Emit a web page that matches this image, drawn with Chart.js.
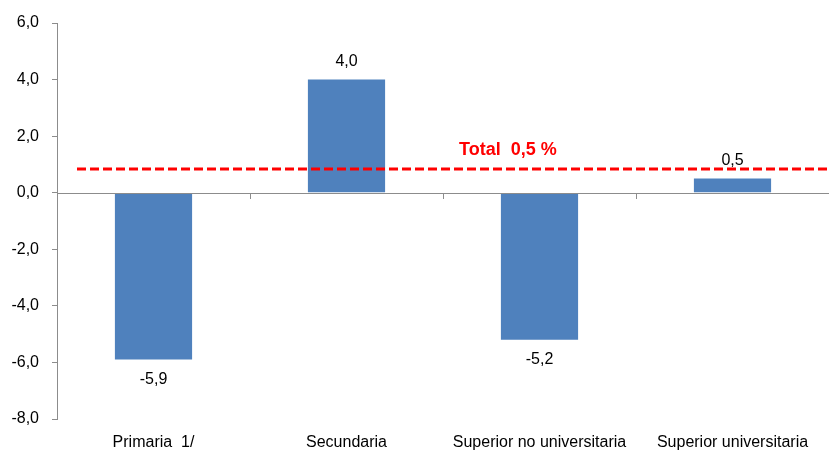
<!DOCTYPE html>
<html>
<head>
<meta charset="utf-8">
<script src="https://cdn.jsdelivr.net/npm/chart.js@4"></script>
<style>
  html, body { margin: 0; padding: 0; background: #fff; }
  #wrap { width: 829px; height: 455px; }
</style>
</head>
<body>
<div id="wrap"><canvas id="c"></canvas></div>
<script>
// data
const categories = ["Primaria  1/", "Secundaria", "Superior no universitaria", "Superior universitaria"];
const values     = [-5.9, 4.0, -5.2, 0.5];
const totalLevel = 0.85;          // where the dashed red line sits
const totalLabel = "Total  0,5 %";
const yTicks     = [6, 4, 2, 0, -2, -4, -6, -8];

const FONT = "'Liberation Sans Narrow', 'Arial Narrow', 'Liberation Sans', sans-serif";
const fmt = v => v.toFixed(1).replace(".", ",");

/** zero line, category tick marks, value labels and the total line */
const extras = {
  id: "extras",
  afterDatasetsDraw(chart) {
    const { ctx, chartArea, scales: { x, y } } = chart;
    const y0 = Math.round(y.getPixelForValue(0));
    ctx.save();

    // zero axis line + tick marks between categories
    ctx.strokeStyle = "#8c8c8c";
    ctx.lineWidth = 1;
    ctx.beginPath();
    ctx.moveTo(chartArea.left, y0 + 0.5);
    ctx.lineTo(chartArea.right, y0 + 0.5);
    const half = (x.getPixelForValue(1) - x.getPixelForValue(0)) / 2;
    for (let i = 1; i < categories.length; i++) {
      const px = Math.round(x.getPixelForValue(i) - half) + 0.5;
      ctx.moveTo(px, y0);
      ctx.lineTo(px, y0 + 6);
    }
    ctx.stroke();

    // value labels
    ctx.fillStyle = "#000";
    ctx.font = "16px " + FONT;
    ctx.textAlign = "center";
    const meta = chart.getDatasetMeta(0);
    meta.data.forEach((bar, i) => {
      const v = values[i];
      if (v >= 0) {
        ctx.textBaseline = "bottom";
        ctx.fillText(fmt(v), bar.x, bar.y - 10);
      } else {
        ctx.textBaseline = "top";
        ctx.fillText(fmt(v), bar.x, bar.y + 12);
      }
    });

    // dashed total line
    const yt = Math.round(y.getPixelForValue(totalLevel));
    ctx.strokeStyle = "#ff0000";
    ctx.lineWidth = 3;
    ctx.setLineDash([9, 4]);
    ctx.beginPath();
    ctx.moveTo(chartArea.left + 20, yt);
    ctx.lineTo(chartArea.right, yt);
    ctx.stroke();
    ctx.setLineDash([]);

    ctx.fillStyle = "#ff0000";
    ctx.font = "bold 18px 'Liberation Sans', Arial, sans-serif";
    ctx.textAlign = "left";
    ctx.textBaseline = "bottom";
    ctx.fillText(totalLabel, x.getPixelForValue(2) - half + 16, yt - 10);

    ctx.restore();
  }
};

new Chart(document.getElementById("c"), {
  type: "bar",
  data: {
    labels: categories,
    datasets: [{
      data: values,
      backgroundColor: "#4f81bd",
      categoryPercentage: 1,
      barPercentage: 0.4,
    }],
  },
  options: {
    responsive: true,
    maintainAspectRatio: false,
    animation: false,
    layout: { padding: { top: 23, right: 0 } },
    plugins: { legend: { display: false }, tooltip: { enabled: false } },
    scales: {
      x: {
        grid: { display: false },
        border: { display: false },
        ticks: { color: "#000", font: { size: 16, family: FONT }, padding: 6, maxRotation: 0, autoSkip: false },
        afterFit(s) { s.height = 36; },
      },
      y: {
        min: -8,
        max: 6,
        afterBuildTicks(s) { s.ticks = yTicks.map(v => ({ value: v })); },
        grid: { drawOnChartArea: false, drawTicks: true, tickLength: 5, color: "#8c8c8c" },
        border: { display: true, color: "#8c8c8c" },
        ticks: { color: "#000", font: { size: 16, family: FONT }, padding: 13, callback: v => fmt(v) },
        afterFit(s) { s.width = 57; },
      },
    },
  },
  plugins: [extras],
});
</script>
</body>
</html>
